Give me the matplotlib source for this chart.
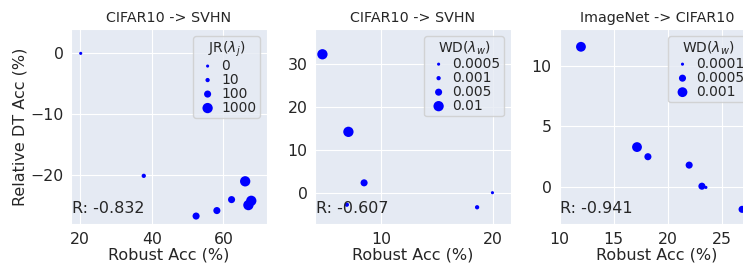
import numpy as np
import matplotlib
matplotlib.use("Agg")
import matplotlib.pyplot as plt
import seaborn as sns

sns.set_style("darkgrid", {"axes.facecolor": "#E5EAF3"})
plt.rcParams["font.family"] = ["DejaVu Sans"]

# panel 1: JR regularisation, CIFAR10 -> SVHN
jr_x = [20.2, 37.8, 52.4, 58.2, 62.3, 66.1, 67.0, 67.8]
jr_y = [0.0, -20.1, -26.7, -25.8, -24.0, -21.0, -24.9, -24.2]
jr_lam = [0, 10, 100, 100, 100, 1000, 1000, 1000]
jr_levels = [0, 10, 100, 1000]
jr_r = "R: -0.832"

# panel 2: WD, CIFAR10 -> SVHN
wd1_x = [4.76, 7.08, 8.48, 6.94, 18.57, 19.94]
wd1_y = [32.3, 14.2, 2.3, -2.8, -3.4, 0.0]
wd1_lam = [0.01, 0.01, 0.005, 0.001, 0.001, 0.0005]
wd1_levels = [0.0005, 0.001, 0.005, 0.01]
wd1_r = "R: -0.607"

# panel 3: WD, ImageNet -> CIFAR10
wd2_x = [11.98, 17.17, 18.18, 22.0, 23.18, 23.55, 26.9]
wd2_y = [11.54, 3.31, 2.52, 1.83, 0.1, 0.0, -1.8]
wd2_lam = [0.001, 0.001, 0.0005, 0.0005, 0.0005, 0.0001, 0.0005]
wd2_levels = [0.0001, 0.0005, 0.001]
wd2_r = "R: -0.941"

# marker areas per level (style)
AREA4 = [5, 9.5, 26, 55]
AREA3 = [5, 26, 50]

fig = plt.figure(figsize=(7.43, 2.66), dpi=100)
B, H = 0.158, 0.733
axes = [fig.add_axes([0.0956, B, 0.2638, H]),
        fig.add_axes([0.424, B, 0.2638, H]),
        fig.add_axes([0.7524, B, 0.2638, H])]

panels = [
    (jr_x, jr_y, jr_lam, jr_levels, AREA4, "JR($\\lambda_j$)", "CIFAR10 -> SVHN", jr_r,
     (17.5, 72.2), (-28.0, 4.0), [20, 40, 60], [-20, -10, 0], ["0", "10", "100", "1000"]),
    (wd1_x, wd1_y, wd1_lam, wd1_levels, AREA4, "WD($\\lambda_w$)", "CIFAR10 -> SVHN", wd1_r,
     (4.1, 21.6), (-7.3, 38.2), [10, 20], [0, 10, 20, 30], ["0.0005", "0.001", "0.005", "0.01"]),
    (wd2_x, wd2_y, wd2_lam, wd2_levels, AREA3, "WD($\\lambda_w$)", "ImageNet -> CIFAR10", wd2_r,
     (9.95, 28.1), (-3.0, 13.0), [10, 15, 20, 25], [0, 5, 10], ["0.0001", "0.0005", "0.001"]),
]

for ax, (x, y, lam, levels, areas, ltitle, title, rtxt, xl, yl, xt, yt, labs) in zip(axes, panels):
    s = [areas[levels.index(v)] for v in lam]
    ax.scatter(x, y, s=s, color="blue", edgecolors="none", zorder=3)
    handles = [ax.scatter([], [], s=a, color="blue", edgecolors="none") for a in areas]
    ax.legend(handles, labs, title=ltitle, loc="upper right", fontsize=10,
              title_fontsize=10, labelspacing=0.0, handlelength=1.6,
              handletextpad=0.2, borderpad=0.25, borderaxespad=0.5, framealpha=0.8)
    ax.set_xlim(*xl); ax.set_ylim(*yl)
    ax.set_xticks(xt); ax.set_yticks(yt)
    ax.tick_params(labelsize=11.3, pad=2)
    ax.set_title(title, fontsize=10.3, pad=5)
    ax.set_xlabel("Robust Acc (%)", fontsize=11.5, labelpad=1)
    ax.text(0.005, 0.056, rtxt, transform=ax.transAxes, fontsize=11.5, va="baseline", ha="left")

axes[0].set_ylabel("Relative DT Acc (%)", fontsize=11.5, labelpad=2)

fig.savefig("out.png", dpi=100)
